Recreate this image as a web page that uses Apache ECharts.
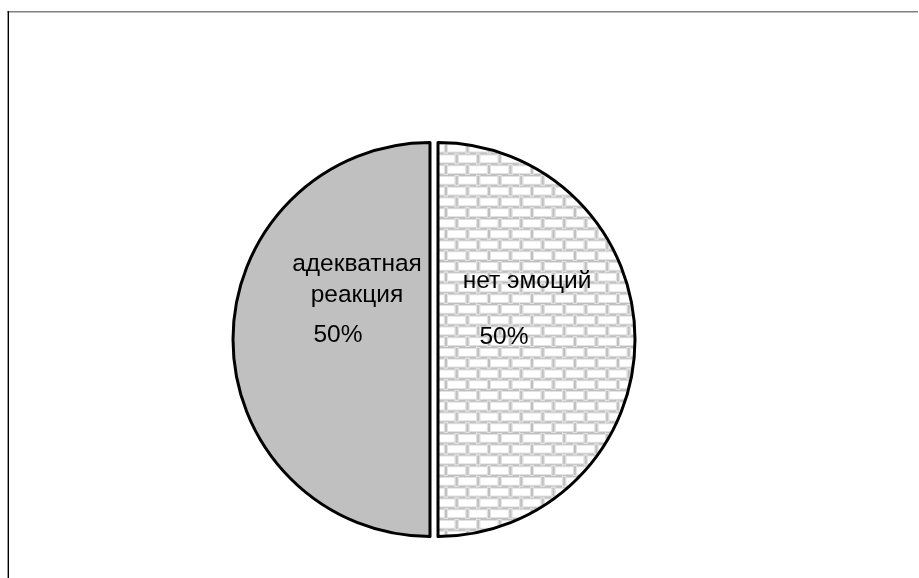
<!DOCTYPE html>
<html>
<head>
<meta charset="utf-8">
<style>
html,body{margin:0;padding:0;background:#fff;}
#chart{width:919px;height:578px;}
</style>
<script src="https://cdn.jsdelivr.net/npm/echarts@6/dist/echarts.min.js"></script>
</head>
<body>
<div id="chart"></div>
<script>
// ---- data ----
const categories = ['адекватная реакция', 'нет эмоций'];
const values = [50, 50];

// ---- brick pattern ----
function brickTile() {
  const W = 43, H = 43, bw = W / 2, rh = H / 4;
  const c = document.createElement('canvas');
  c.width = W; c.height = H;
  const g = c.getContext('2d');
  g.fillStyle = '#ffffff';
  g.fillRect(0, 0, W, H);
  const y0 = 3, x0 = 1.2;
  function mortar(x, y, w, h) {
    g.fillStyle = '#e2e2e2';
    g.fillRect(x - 1, y - 1, w + 2, h + 2);
    g.fillStyle = '#c0c0c0';
    g.fillRect(x, y, w, h);
  }
  for (let r = -1; r <= 5; r++) {
    const y = y0 + r * rh;
    for (let k = -1; k <= 1; k++) mortar(k * W, y - 1, W, 2);
  }
  for (let r = -1; r <= 5; r++) {
    const y = y0 + r * rh;
    const off = (((r % 2) + 2) % 2 === 0) ? 0 : bw / 2;
    for (let k = -2; k <= 3; k++) {
      const x = x0 + off + k * bw;
      for (let t = -1; t <= 1; t++) mortar(((x % W) + W) % W + t * W - 1, y + 1, 2, rh - 2);
    }
  }
  return c;
}

const fills = ['#c0c0c0', { image: brickTile(), repeat: 'repeat' }];
const FONT = 'Liberation Sans, Arial, sans-serif';
const labelStyles = [
  { pad: [0, 38, 0, 0], pLH: 50, dx: 28.5, dy: -35 },
  { pad: [0, 46, 0, 0], pLH: 80, dx: -12.5, dy: -18 }
];

const data = categories.map((name, i) => ({
  name: name,
  value: values[i],
  selected: true,
  itemStyle: { color: fills[i] },
  label: {
    rich: {
      n: { fontSize: 24.5, lineHeight: 31, fontFamily: FONT, color: '#000' },
      p: { fontSize: 24.5, lineHeight: labelStyles[i].pLH, padding: labelStyles[i].pad, fontFamily: FONT, color: '#000' }
    }
  }
}));

const chart = echarts.init(document.getElementById('chart'), null, { renderer: 'canvas' });
chart.setOption({
  animation: false,
  backgroundColor: '#ffffff',
  graphic: [
    { type: 'line', shape: { x1: 7.5, y1: 11.7, x2: 918, y2: 11.7 }, style: { stroke: '#808080', lineWidth: 1.4 } },
    { type: 'line', shape: { x1: 8.3, y1: 11, x2: 8.3, y2: 578 }, style: { stroke: '#000000', lineWidth: 1.4 } }
  ],
  series: [{
    type: 'pie',
    center: [434, 339.5],
    radius: 197,
    startAngle: 90,
    clockwise: false,
    selectedMode: 'multiple',
    selectedOffset: 4,
    silent: true,
    emphasis: { disabled: true },
    itemStyle: { borderColor: '#000', borderWidth: 3 },
    label: {
      show: true,
      position: 'inside',
      align: 'center',
      formatter: function (p) {
        const nm = p.name.length > 12 ? p.name.replace(' ', '}\n{n|') : p.name;
        return '{n|' + nm + '}\n{p|' + Math.round(p.percent) + '%}';
      }
    },
    labelLayout: function (params) {
      const s = labelStyles[params.dataIndex];
      return { dx: s.dx, dy: s.dy };
    },
    labelLine: { show: false },
    data: data
  }]
});
</script>
</body>
</html>
